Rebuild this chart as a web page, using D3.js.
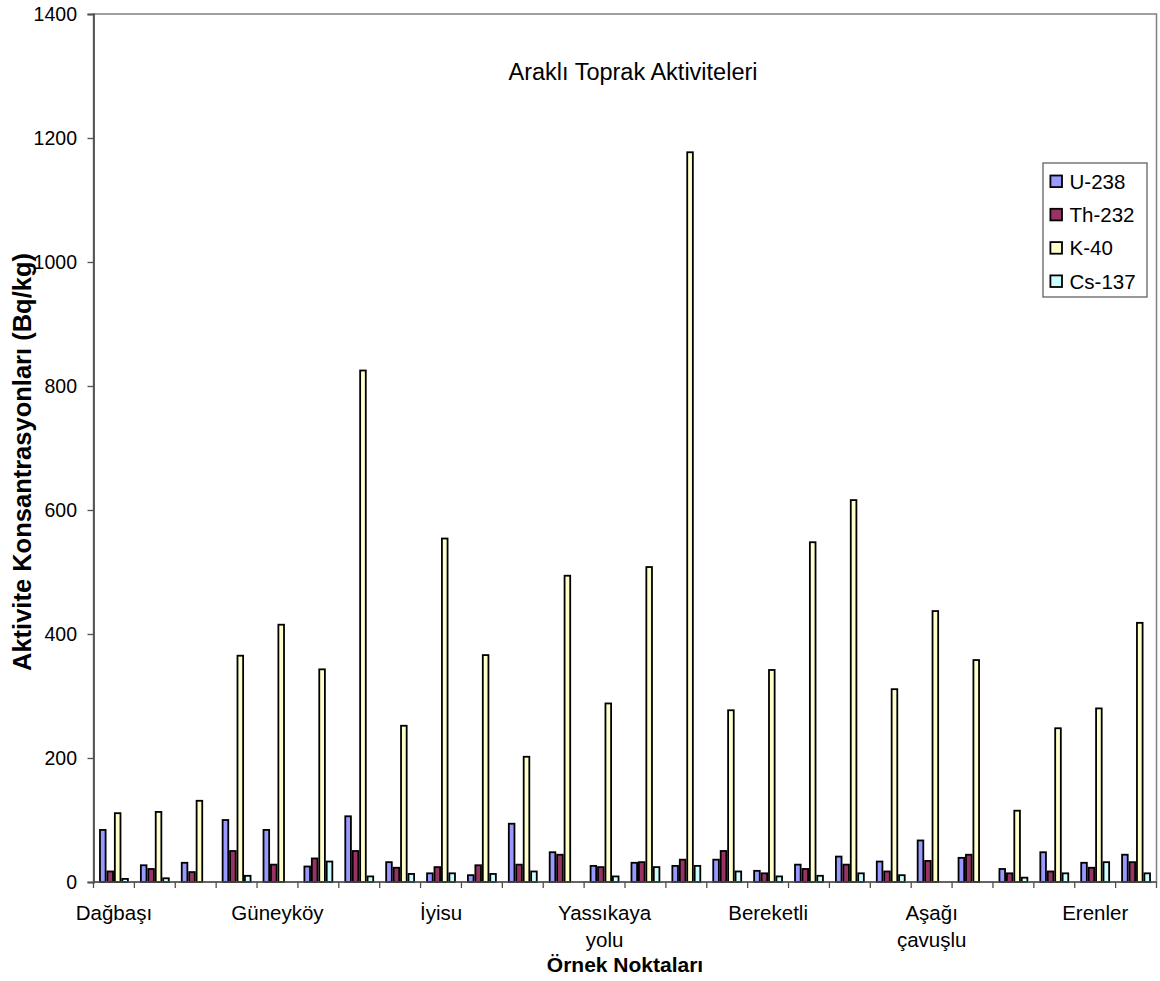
<!DOCTYPE html>
<head>
  <meta charset="utf-8">
  <script src="https://d3js.org/d3.v7.min.js"></script>
</head>
<style>
  body { margin: 0; background: #fff; }
  text { font-family: "Liberation Sans", Arial, sans-serif; fill: #000; }
</style>
<body>
<div id="chart"></div>
<script>
'use strict';

// sample points (only every 4th name is printed on the axis)
var categories = ["Dağbaşı","","","","Güneyköy","","","","İyisu","","","","Yassıkaya yolu","","","",
                  "Bereketli","","","","Aşağı çavuşlu","","","","Erenler",""];
var seriesNames = ["U-238","Th-232","K-40","Cs-137"];
var seriesColors = ["#9999FF","#993366","#FFFFCC","#CCFFFF"];

var u238  = [84, 27, 31, 100, 84, 25, 106, 32, 14, 11, 94, 48, 26, 31, 26, 36, 18, 28, 41, 33, 67, 39, 21, 48, 31, 44];
var th232 = [17, 21, 16, 50, 28, 38, 50, 23, 24, 27, 28, 44, 24, 32, 36, 50, 14, 21, 28, 17, 34, 44, 14, 17, 23, 32];
var k40   = [111, 113, 131, 365, 415, 343, 825, 252, 554, 366, 202, 494, 288, 508, 1177, 277, 342, 548, 616, 311, 437, 358, 115, 248, 280, 418];
var cs137 = [5, 6, 0, 10, 0, 33, 9, 13, 14, 13, 17, 0, 9, 24, 26, 17, 9, 10, 14, 11, 0, 0, 7, 14, 32, 14];
var yTicks = [0, 200, 400, 600, 800, 1000, 1200, 1400];

var series = [u238, th232, k40, cs137];

var width = 1160, height = 981;
var plot = {left: 93.5, right: 1156.5, top: 14, bottom: 882};

var svg = d3.select("#chart").append("svg")
  .attr("width", width).attr("height", height);

var x = d3.scaleBand().domain(d3.range(categories.length)).range([plot.left, plot.right]).padding(0);
var barW = x.bandwidth() / 5.5;   // gap width 150%
var xs = d3.scaleBand().domain(d3.range(series.length))
  .range([barW * 0.75, x.bandwidth() - barW * 0.75]).padding(0);
var y = d3.scaleLinear().domain([0, 1400]).range([plot.bottom, plot.top]);

// plot area border
svg.append("rect")
  .attr("x", plot.left).attr("y", plot.top)
  .attr("width", plot.right - plot.left).attr("height", plot.bottom - plot.top)
  .attr("fill", "none").attr("stroke", "#808080").attr("stroke-width", 1.5);

// bars
var groups = svg.append("g").attr("class", "bars")
  .selectAll("g").data(categories).enter()
  .append("g")
  .attr("transform", function(d, i) { return "translate(" + x(i) + ",0)"; });

groups.selectAll("rect")
  .data(function(d, i) { return series.map(function(s, j) { return {s: j, v: s[i]}; }); })
  .enter().append("rect")
  .filter(function(d) { return d.v > 0; })
  .attr("x", function(d) { return xs(d.s) + 0.9; })
  .attr("width", xs.bandwidth() - 1.8)
  .attr("y", function(d) { return y(d.v); })
  .attr("height", function(d) { return y(0) - y(d.v); })
  .attr("fill", function(d) { return seriesColors[d.s]; })
  .attr("stroke", "#000").attr("stroke-width", 1.8);

// y axis
var yAxis = svg.append("g")
  .attr("transform", "translate(" + plot.left + ",0)")
  .call(d3.axisLeft(y).tickValues(yTicks).tickSize(6).tickPadding(10.5).tickFormat(d3.format("d")));
yAxis.select(".domain").attr("stroke", "#505050").attr("stroke-width", 1.8);
yAxis.selectAll(".tick line").attr("stroke", "#505050").attr("stroke-width", 1.3);
yAxis.selectAll(".tick text").style("font-size", "19.5px").attr("dy", "0.35em");

// x axis: ticks on every category boundary
var xTickPos = d3.range(categories.length + 1).map(function(i) {
  return i < categories.length ? x(i) : x(i - 1) + x.bandwidth();
});
var xAxis = svg.append("g").attr("class", "xaxis");
xAxis.append("line")
  .attr("x1", plot.left).attr("x2", plot.right)
  .attr("y1", plot.bottom).attr("y2", plot.bottom)
  .attr("stroke", "#505050").attr("stroke-width", 1.6);
xAxis.selectAll("line.tk").data(xTickPos).enter().append("line").attr("class", "tk")
  .attr("x1", function(d) { return d; }).attr("x2", function(d) { return d; })
  .attr("y1", plot.bottom).attr("y2", plot.bottom + 6)
  .attr("stroke", "#505050").attr("stroke-width", 1.3);

var labels = xAxis.selectAll("text.cat")
  .data(categories.map(function(c, i) { return {name: c, i: i}; }).filter(function(d) { return d.i % 4 === 0; }))
  .enter().append("text").attr("class", "cat")
  .attr("text-anchor", "middle")
  .style("font-size", "20.5px")
  .attr("x", function(d) { return x(d.i) + x.bandwidth() / 2; })
  .attr("y", plot.bottom + 38);
labels.selectAll("tspan")
  .data(function(d) { return d.name.split(" ").map(function(w) { return {w: w, x: x(d.i) + x.bandwidth() / 2}; }); })
  .enter().append("tspan")
  .attr("x", function(d) { return d.x; })
  .attr("dy", function(d, k) { return k ? 27 : 0; })
  .text(function(d) { return d.w; });

// titles
svg.append("text")
  .attr("x", 633).attr("y", 80)
  .attr("text-anchor", "middle").style("font-size", "23.5px")
  .text("Araklı Toprak Aktiviteleri");

svg.append("text")
  .attr("x", 625).attr("y", 972)
  .attr("text-anchor", "middle").style("font-size", "21px").style("font-weight", "bold")
  .text("Örnek Noktaları");

svg.append("text")
  .attr("transform", "translate(31,462) rotate(-90)")
  .attr("text-anchor", "middle").style("font-size", "25.5px").style("font-weight", "bold")
  .text("Aktivite Konsantrasyonları (Bq/kg)");

// legend
var legend = svg.append("g").attr("transform", "translate(1043,163)");
legend.append("rect")
  .attr("width", 104).attr("height", 134)
  .attr("fill", "#fff").attr("stroke", "#555").attr("stroke-width", 1.2);
var li = legend.selectAll("g.item").data(seriesNames).enter().append("g").attr("class", "item")
  .attr("transform", function(d, i) { return "translate(6.5," + (18.3 + i * 33.3) + ")"; });
li.append("rect")
  .attr("x", 0.9).attr("y", -5.8).attr("width", 11.6).attr("height", 11.6)
  .attr("fill", function(d, i) { return seriesColors[i]; })
  .attr("stroke", "#000").attr("stroke-width", 1.8);
li.append("text")
  .attr("x", 20).attr("dy", "0.36em").style("font-size", "20.5px")
  .text(function(d) { return d; });
</script>
</body>
